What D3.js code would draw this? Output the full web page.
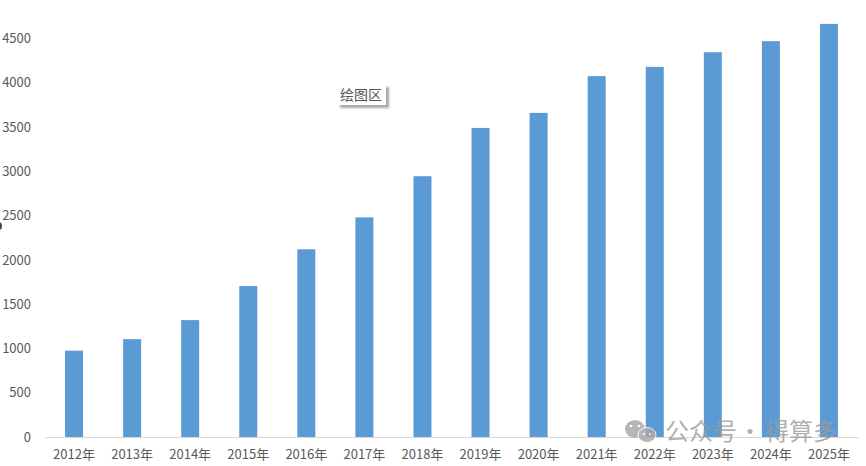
<!DOCTYPE html>
<html lang="zh">
<head>
<meta charset="utf-8">
<script src="https://cdn.jsdelivr.net/npm/d3@7"></script>
<style>
html,body{margin:0;padding:0;background:#fff;overflow:hidden}
svg{display:block}
text{font-family:"Noto Sans CJK SC","Open Sans",sans-serif}
</style>
</head>
<body>
<svg id="chart" width="866" height="466"></svg>
<script>
const years = ["2012年","2013年","2014年","2015年","2016年","2017年","2018年","2019年","2020年","2021年","2022年","2023年","2024年","2025年"];
const totals = [975,1105,1320,1705,2120,2480,2945,3490,3660,4075,4180,4345,4470,4665];
const yTicks = [0,500,1000,1500,2000,2500,3000,3500,4000,4500];

const svg = d3.select("#chart");
const plot = {left:45, right:858, top:0, bottom:437};

const x = d3.scaleBand().domain(years).range([plot.left, plot.right]).paddingInner(0.69).paddingOuter(0.345);
const y = d3.scaleLinear().domain([0,4500]).range([plot.bottom, 38.5]);

// Bars
svg.append("g").selectAll("rect").data(years).join("rect")
  .attr("x", d => x(d))
  .attr("y", (d,i) => y(totals[i]))
  .attr("width", x.bandwidth())
  .attr("height", (d,i) => y(0) - y(totals[i]))
  .attr("fill", "#5b9bd5");

// Category axis
const xAxis = d3.axisBottom(x).tickSize(0).tickPadding(13);
const gx = svg.append("g").attr("transform", `translate(0,${plot.bottom})`).call(xAxis);
gx.select(".domain").attr("stroke", "#d9d9d9").attr("stroke-width", 1.2);
gx.selectAll("text").attr("font-size", 13).attr("fill", "#595959");

// Value axis: labels only, plain digits
const yAxis = d3.axisLeft(y).tickValues(yTicks).tickFormat(d3.format("d")).tickSize(0).tickPadding(14);
const gy = svg.append("g").attr("transform", `translate(${plot.left},0)`).call(yAxis);
gy.select(".domain").remove();
gy.selectAll("text").attr("font-size", 13).attr("fill", "#595959").attr("font-family", "'Open Sans',sans-serif");

// Edge of the cut-off axis title
svg.append("ellipse").attr("cx", -1).attr("cy", 226).attr("rx", 3).attr("ry", 4).attr("fill", "#444");

// Floating tooltip label
const tip = svg.append("g").attr("transform", "translate(337,84)");
tip.append("rect").attr("x", 3).attr("y", 3).attr("width", 49).attr("height", 21).attr("fill", "#a8a8a8").style("filter", "blur(1.2px)");
tip.append("rect").attr("width", 49).attr("height", 21).attr("fill", "#fff");
tip.append("text").attr("x", 24).attr("y", 15.5).attr("text-anchor", "middle")
  .attr("font-size", 14).attr("fill", "#555").text("绘图区");

// Account mark in the lower right corner
const mark = svg.append("g").attr("opacity", 0.85);
mark.append("ellipse").attr("cx", 635).attr("cy", 429).attr("rx", 10).attr("ry", 9).attr("fill", "#a9a9a9");
mark.append("ellipse").attr("cx", 647).attr("cy", 435).attr("rx", 9).attr("ry", 7.5).attr("fill", "#a9a9a9").attr("stroke", "#fff").attr("stroke-width", 1);
mark.append("circle").attr("cx", 631).attr("cy", 426).attr("r", 1.3).attr("fill", "#fff");
mark.append("circle").attr("cx", 639).attr("cy", 426).attr("r", 1.3).attr("fill", "#fff");
mark.append("circle").attr("cx", 644).attr("cy", 434).attr("r", 1.1).attr("fill", "#fff");
mark.append("circle").attr("cx", 650).attr("cy", 434).attr("r", 1.1).attr("fill", "#fff");

// The middle dot sits centred in a full-width cell, so its cell starts left of the visible dot
const markText = [["公众号", 665], ["·", 738], ["得算多", 765]];
svg.append("g").selectAll("text").data(markText).join("text")
  .attr("x", d => d[1]).attr("y", 440)
  .attr("font-size", 24).attr("fill", "#9a9a9a").attr("fill-opacity", 0.8)
  .text(d => d[0]);
</script>
</body>
</html>
